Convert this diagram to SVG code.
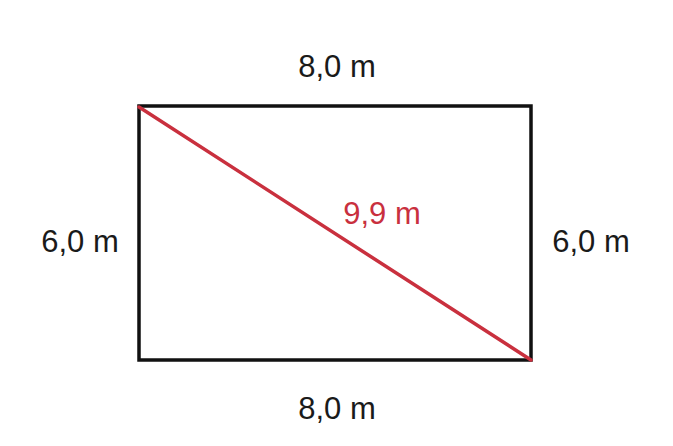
<svg xmlns="http://www.w3.org/2000/svg" width="673" height="446" viewBox="0 0 673 446">
<style>
.lbl{font-family:"Liberation Sans",Arial,sans-serif;font-size:31px;fill:#1a1a1a;text-anchor:middle}
.red{fill:#c9303e}
</style>
<rect width="673" height="446" fill="#ffffff"/>
<g id="rectangle">
<rect x="139" y="106" width="392" height="254" fill="none" stroke="#111111" stroke-width="3.5"/>
</g>
<g id="connectors">
<line x1="139" y1="107" x2="531" y2="360" stroke="#c9303e" stroke-width="3.5" stroke-linecap="round"/>
</g>
<g id="label-top"><text class="lbl" x="337" y="77">8,0 m</text></g>
<g id="label-bottom"><text class="lbl" x="337" y="419">8,0 m</text></g>
<g id="label-left"><text class="lbl" x="80" y="252">6,0 m</text></g>
<g id="label-right"><text class="lbl" x="591" y="252">6,0 m</text></g>
<g id="label-diagonal"><text class="lbl red" x="382" y="224">9,9 m</text></g>
</svg>
